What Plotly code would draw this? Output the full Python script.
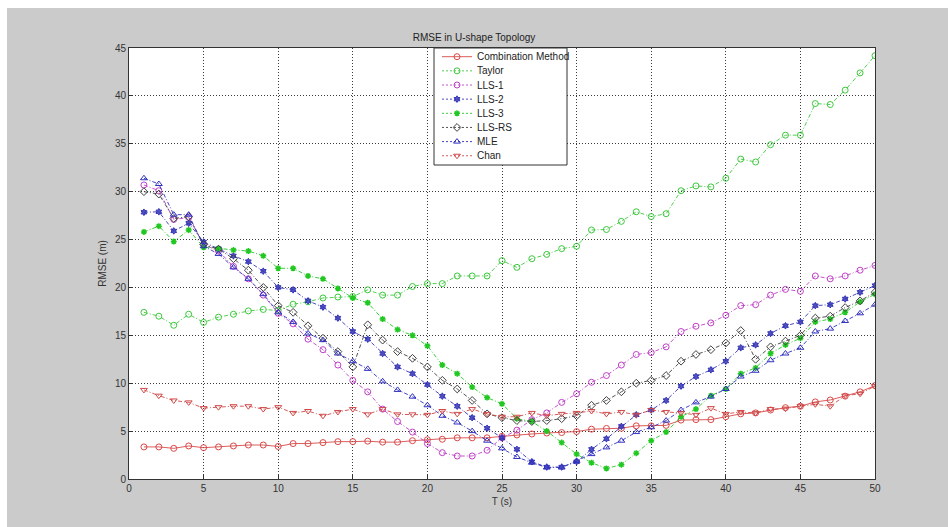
import plotly.graph_objects as go

t = list(range(1, 51))

combination = [3.35, 3.35, 3.2, 3.45, 3.27, 3.35, 3.45, 3.55, 3.55, 3.4,
               3.7, 3.7, 3.8, 3.9, 3.9, 3.95, 3.85, 3.85, 4.0, 4.1,
               4.15, 4.3, 4.3, 4.3, 4.45, 4.6, 4.7, 4.8, 4.85, 4.95,
               5.2, 5.28, 5.3, 5.55, 5.55, 5.6, 6.15, 6.2, 6.2, 6.5,
               6.8, 6.9, 7.2, 7.45, 7.6, 8.05, 8.25, 8.65, 9.1, 9.75]
taylor = [17.4, 17.0, 16.05, 17.2, 16.35, 16.9, 17.2, 17.55, 17.7, 17.6,
          18.25, 18.5, 18.9, 19.0, 19.05, 19.75, 19.2, 19.2, 20.1, 20.4,
          20.4, 21.2, 21.2, 21.2, 22.8, 22.1, 23.0, 23.45, 24.05, 24.3,
          26.0, 26.05, 26.9, 27.9, 27.4, 27.7, 30.1, 30.6, 30.5, 31.4,
          33.4, 33.1, 34.9, 35.9, 35.9, 39.2, 39.1, 40.6, 42.4, 44.2]
lls1 = [30.7, 30.1, 27.1, 27.3, 24.5, 23.8, 22.2, 20.9, 19.2, 17.3,
        16.2, 14.6, 13.5, 11.9, 10.3, 9.1, 7.3, 6.0, 4.9, 3.7,
        2.75, 2.4, 2.4, 3.0, 4.3, 5.1, 6.2, 6.9, 8.0, 8.9,
        10.1, 10.8, 11.9, 13.0, 13.2, 13.8, 15.4, 15.95, 16.3, 17.1,
        18.1, 18.2, 19.2, 19.8, 19.6, 21.2, 20.9, 21.2, 21.8, 22.3]
lls2 = [27.85, 27.9, 25.9, 26.7, 24.75, 24.05, 23.3, 22.7, 21.7, 20.0,
        19.75, 18.6, 17.95, 16.8, 15.4, 14.6, 13.1, 11.7, 11.0, 9.85,
        8.65, 7.6, 6.4, 5.3, 4.3, 3.1, 1.8, 1.25, 1.25, 1.8,
        3.1, 4.2, 5.5, 6.7, 7.2, 8.2, 9.7, 10.7, 11.4, 12.3,
        13.7, 14.0, 15.2, 16.0, 16.4, 18.1, 18.2, 18.8, 19.5, 20.2]
lls3 = [25.8, 26.4, 24.8, 26.0, 24.2, 24.05, 23.9, 23.8, 23.3, 22.0,
        22.0, 21.2, 20.9, 19.9, 18.9, 18.4, 16.7, 15.6, 15.0, 13.9,
        11.9, 11.0, 9.6, 8.5, 7.85, 6.3, 6.0, 5.0, 3.8, 2.6,
        1.7, 1.1, 1.5, 2.7, 4.0, 4.9, 6.5, 7.3, 8.7, 9.4,
        11.0, 11.6, 13.1, 14.0, 14.7, 16.4, 16.7, 17.4, 18.5, 19.3]
lls_rs = [30.0, 29.75, 27.2, 27.4, 24.5, 24.0, 23.0, 21.8, 20.0, 18.1,
          17.4, 16.0, 14.7, 13.3, 11.7, 16.1, 14.5, 13.3, 12.6, 11.7,
          10.3, 9.4, 8.2, 6.8, 6.4, 6.1, 6.0, 6.1, 6.3, 6.6,
          7.7, 8.2, 9.1, 10.0, 10.3, 10.8, 12.3, 13.0, 13.5, 14.2,
          15.5, 12.5, 13.8, 14.4, 15.0, 16.8, 17.0, 17.9, 18.6, 19.5]
mle = [31.4, 30.8, 27.6, 27.6, 24.3, 23.5, 22.1, 20.9, 19.3, 17.4,
       16.4, 15.2, 14.5, 13.1, 12.3, 11.5, 10.2, 9.3, 8.6, 7.7,
       6.6, 5.9, 5.0, 4.0, 3.2, 2.3, 1.7, 1.2, 1.2, 1.9,
       2.6, 3.3, 4.0, 4.9, 5.4, 6.1, 7.2, 8.0, 8.6, 9.4,
       10.7, 11.3, 12.4, 13.1, 13.7, 15.4, 15.7, 16.5, 17.3, 18.2]
chan = [9.3, 8.7, 8.2, 8.0, 7.4, 7.5, 7.6, 7.6, 7.3, 7.5,
        6.9, 7.1, 6.6, 7.0, 7.3, 6.75, 7.3, 6.75, 6.75, 6.7,
        7.1, 6.8, 7.3, 6.8, 6.5, 6.5, 6.9, 6.6, 6.8, 6.9,
        7.1, 6.8, 7.0, 6.7, 7.2, 7.0, 6.9, 6.7, 7.4, 6.8,
        7.0, 6.9, 7.3, 7.35, 7.6, 7.8, 7.6, 8.7, 8.9, 9.7]

x_ticks = list(range(0, 51, 5))
y_ticks = list(range(0, 46, 5))

FONT = "Arial, Liberation Sans, sans-serif"
DASHDOT = "4px,2px,1px,2px"
X_MAX, Y_MAX = 50, 45

series = [
    ("Combination Method", combination, "#d84848", "solid", "circle-open"),
    ("Taylor", taylor, "#3cc83c", DASHDOT, "circle-open"),
    ("LLS-1", lls1, "#c040c8", DASHDOT, "circle-open"),
    ("LLS-2", lls2, "#3434b8", DASHDOT, "hexagram"),
    ("LLS-3", lls3, "#22c822", DASHDOT, "asterisk-open"),
    ("LLS-RS", lls_rs, "#404040", DASHDOT, "diamond-open"),
    ("MLE", mle, "#3030c0", DASHDOT, "triangle-up-open"),
    ("Chan", chan, "#d04848", DASHDOT, "triangle-down-open"),
]


def marker_style(sym, color, size=6):
    if sym == "hexagram":
        return dict(symbol=sym, size=size - 1, color="rgba(50,50,180,0.85)",
                    line=dict(color=color, width=1))
    if sym == "asterisk-open":
        return dict(symbol=sym, size=size - 1, color=color, line=dict(color=color, width=1.5))
    return dict(symbol=sym, size=size, color=color, line=dict(color=color, width=1))


fig = go.Figure()
for name, vals, color, dash, sym in series:
    fig.add_trace(go.Scatter(
        x=t, y=vals, name=name, mode="lines+markers", showlegend=False,
        line=dict(color=color, width=0.9, dash=dash),
        marker=marker_style(sym, color),
    ))

# Plot area in pixels: left 129, right 875, top 48, bottom 479
PL, PR, PT, PB = 129, 875, 48, 479
PW, PH = PR - PL, PB - PT


def px_x(px):
    return (px - PL) / PW


def px_y(py):
    return (PB - py) / PH


# Compact boxed legend: box in the plot's own coordinates,
# key samples and labels on an overlay axis spanning the plot area
LEG_L, LEG_R, LEG_T, LEG_B = 434, 567, 48, 165
LEG_ROW0, LEG_STEP = 56.7, 14.15
SAMPLE_X0, SAMPLE_X1 = 442, 472
TEXT_X = 475

shapes = [
    dict(type="rect", xref="paper", yref="paper",
         x0=-PL / PW, x1=(948 - PL) / PW, y0=px_y(0), y1=px_y(8),
         fillcolor="white", line=dict(width=0), layer="below"),
    dict(type="rect", xref="paper", yref="paper",
         x0=-PL / PW, x1=px_x(7), y0=px_y(527), y1=px_y(0),
         fillcolor="white", line=dict(width=0), layer="below"),
    dict(type="rect", xref="x", yref="y",
         x0=px_x(LEG_L) * X_MAX, x1=px_x(LEG_R) * X_MAX,
         y0=px_y(LEG_B) * Y_MAX, y1=px_y(LEG_T) * Y_MAX,
         fillcolor="white", line=dict(color="#333333", width=1), layer="between"),
]
annotations = []
for i, (name, vals, color, dash, sym) in enumerate(series):
    row_y = LEG_ROW0 + i * LEG_STEP
    xs = [px_x(SAMPLE_X0), px_x((SAMPLE_X0 + SAMPLE_X1) / 2), px_x(SAMPLE_X1)]
    fig.add_trace(go.Scatter(
        x=xs, y=[px_y(row_y)] * 3, xaxis="x2", yaxis="y2",
        mode="lines", showlegend=False, hoverinfo="skip",
        line=dict(color=color, width=0.9, dash="solid" if dash == "solid" else "2px,2px"),
    ))
    fig.add_trace(go.Scatter(
        x=[xs[1]], y=[px_y(row_y)], xaxis="x2", yaxis="y2",
        mode="markers", showlegend=False, hoverinfo="skip",
        marker=marker_style(sym, color),
    ))
    annotations.append(dict(
        x=px_x(TEXT_X), y=px_y(row_y), xref="x2", yref="y2",
        text=name, showarrow=False, xanchor="left", yanchor="middle",
        font=dict(family=FONT, size=10, color="#222222"),
    ))

axis_common = dict(
    showgrid=True, gridcolor="#3a3a3a", griddash="1px,2px", gridwidth=1,
    showline=True, linecolor="#333333", linewidth=1, mirror=True,
    ticks="inside", ticklen=4, tickcolor="#333333",
    tickfont=dict(family=FONT, size=10, color="#333333"),
    zeroline=False,
)

fig.update_xaxes(range=[0, X_MAX], tickvals=x_ticks,
                 title=dict(text="T (s)", standoff=4,
                            font=dict(family=FONT, size=10, color="#333333")),
                 **axis_common)
fig.update_yaxes(range=[0, Y_MAX], tickvals=y_ticks,
                 title=dict(text="RMSE (m)", standoff=6,
                            font=dict(family=FONT, size=10, color="#333333")),
                 **axis_common)

fig.update_layout(
    width=948, height=527,
    margin=dict(l=PL, r=948 - PR, t=PT, b=527 - PB),
    paper_bgcolor="#cbcbcb",
    plot_bgcolor="white",
    showlegend=False,
    xaxis2=dict(overlaying="x", range=[0, 1], visible=False, fixedrange=True),
    yaxis2=dict(overlaying="y", range=[0, 1], visible=False, fixedrange=True),
    title=dict(text="RMSE in U-shape Topology", x=0.5, xanchor="center",
               y=1 - 37 / 527, yanchor="middle",
               font=dict(family=FONT, size=10, color="#222222")),
    shapes=shapes,
    annotations=annotations,
)

fig.write_html("out.html")
